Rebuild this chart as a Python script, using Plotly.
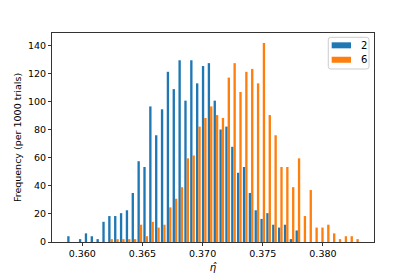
import plotly.graph_objects as go

# Histogram data (counts out of 1000 trials), 50 equal-width bins
series_names = ["2", "6"]
bin_start = 0.35870
bin_width = 0.0004866
n_trials = 1000
counts_2 = [2, 0, 1, 3, 2, 1, 7, 9, 9, 10,
            11, 17, 28, 26, 47, 37, 46, 59, 53, 63,
            49, 63, 55, 61, 62, 49, 39, 40, 33, 24,
            26, 17, 11, 8, 10, 6, 5, 6, 1, 4,
            0, 0, 0, 0, 0, 0, 0, 0, 0, 0]
counts_6 = [0, 0, 0, 0, 0, 0, 0, 1, 1, 1,
            1, 1, 6, 2, 7, 5, 6, 12, 15, 19,
            29, 30, 40, 43, 47, 44, 43, 57, 62, 52,
            59, 60, 55, 69, 44, 37, 26, 26, 19, 29,
            9, 18, 5, 5, 6, 3, 1, 2, 2, 1]
x_ticks = [0.360, 0.365, 0.370, 0.375, 0.380]
y_ticks = [0, 20, 40, 60, 80, 100, 120, 140]
colors = ["#1f77b4", "#ff7f0e"]

nb = len(counts_2)
centers = [bin_start + (i + 0.5) * bin_width for i in range(nb)]
scale = 1.0 / (n_trials * bin_width)
h2 = [c * scale for c in counts_2]
h6 = [c * scale for c in counts_6]

fig = go.Figure()
for name, h, col in zip(series_names, [h2, h6], colors):
    fig.add_trace(go.Bar(x=centers, y=h, name=name, showlegend=False,
                         marker=dict(color=col, line=dict(width=0))))

lo = bin_start
hi = bin_start + nb * bin_width
pad = 0.05 * (hi - lo)
ymax = 1.05 * max(max(h2), max(h6))

font = dict(family="DejaVu Sans", size=9.5, color="#000")
axis_common = dict(showline=True, linecolor="#333", linewidth=1, mirror=True,
                   ticks="outside", ticklen=3, tickwidth=1, tickcolor="#333",
                   showgrid=False, zeroline=False, tickfont=font, automargin=False)

# matplotlib-style legend drawn in paper coordinates
W, H = 322.0, 209.0  # plot area size in px
def px(x): return x / W
def py(y): return y / H
bx0, bx1, by0, by1 = 0.858, 0.9845, 0.8278, 0.9794
rx, ry = px(2.5), py(2.5)
box_path = (f"M {bx0+rx},{by0} L {bx1-rx},{by0} Q {bx1},{by0} {bx1},{by0+ry} "
            f"L {bx1},{by1-ry} Q {bx1},{by1} {bx1-rx},{by1} L {bx0+rx},{by1} "
            f"Q {bx0},{by1} {bx0},{by1-ry} L {bx0},{by0+ry} Q {bx0},{by0} {bx0+rx},{by0} Z")
shapes = [dict(type="path", path=box_path, xref="paper", yref="paper",
               fillcolor="rgba(255,255,255,0.8)", line=dict(color="#cccccc", width=1),
               layer="above")]
annotations = []
entry_y = [0.941, 0.872]
for name, col, ey in zip(series_names, colors, entry_y):
    shapes.append(dict(type="rect", xref="paper", yref="paper",
                       x0=0.8686, x1=0.9286, y0=ey - py(3), y1=ey + py(3),
                       fillcolor=col, line=dict(width=0), layer="above"))
    annotations.append(dict(text=name, xref="paper", yref="paper", x=0.952, y=ey,
                            xanchor="left", yanchor="middle", showarrow=False,
                            font=dict(family="DejaVu Sans", size=10, color="#000")))

fig.update_layout(
    width=415, height=277,
    margin=dict(l=52, r=41, t=33, b=35),
    paper_bgcolor="white", plot_bgcolor="white",
    barmode="group", bargap=0.2, bargroupgap=0,
    font=font,
    showlegend=False,
    shapes=shapes, annotations=annotations,
)
fig.update_xaxes(range=[lo - pad, hi + pad], tickvals=x_ticks,
                 ticktext=[f"{v:.3f}" for v in x_ticks],
                 title=dict(text="<i>η̂</i>", font=dict(family="DejaVu Sans", size=10), standoff=5),
                 **axis_common)
fig.update_yaxes(range=[0, ymax], tickvals=y_ticks,
                 title=dict(text="Frequency (per 1000 trials)", font=font, standoff=4),
                 **axis_common)

fig.write_html("out.html", config={"displayModeBar": False},
               post_script="document.body.style.margin='0';document.body.style.overflow='hidden';")
